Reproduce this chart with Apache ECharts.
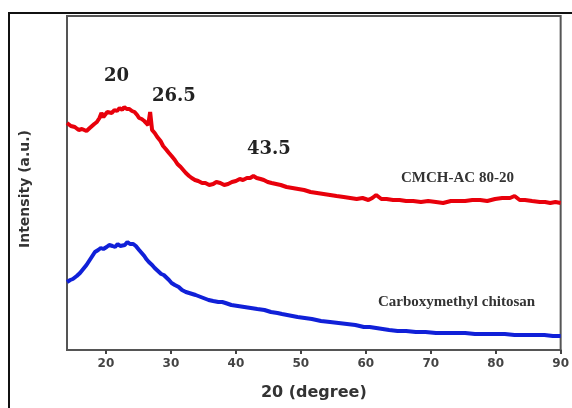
<!DOCTYPE html>
<html>
<head>
<meta charset="utf-8">
<script src="https://cdn.jsdelivr.net/npm/echarts@6/dist/echarts.min.js"></script>
<style>
  html, body { margin: 0; padding: 0; background: #fff; }
  #chart { width: 572px; height: 408px; }
</style>
</head>
<body>
<div id="chart"></div>
<script>
// 2theta positions (degree) and intensity (a.u.)
const redX = [14.0, 14.6, 15.2, 15.8, 16.3, 17.0, 17.5, 17.8, 18.2, 18.6, 19.0, 19.3, 19.6, 19.9, 20.2, 20.5, 20.9, 21.3, 21.7, 22.1, 22.5, 22.8, 23.2, 23.6, 24.0, 24.4, 24.8, 25.1, 25.5, 25.9, 26.2, 26.5, 26.8, 27.1, 27.5, 27.9, 28.4, 28.8, 29.2, 29.7, 30.1, 30.6, 31.0, 31.5, 31.9, 32.3, 32.8, 33.2, 33.7, 34.2, 34.8, 35.3, 35.9, 36.5, 37.0, 37.6, 38.2, 38.8, 39.4, 40.0, 40.6, 41.1, 41.7, 42.2, 42.7, 43.2, 43.8, 44.3, 44.9, 45.5, 46.2, 46.9, 47.8, 48.7, 49.6, 50.5, 51.5, 52.5, 53.5, 54.5, 55.5, 56.6, 57.6, 58.6, 59.5, 60.4, 61.0, 61.6, 62.4, 63.2, 64.2, 65.2, 66.2, 67.3, 68.5, 69.6, 70.8, 71.9, 73.1, 74.2, 75.3, 76.4, 77.6, 78.7, 79.9, 81.0, 82.2, 82.9, 83.7, 84.5, 85.6, 86.8, 87.6, 88.4, 89.2, 90.0];
const redY = [227, 224, 223, 220, 221, 219, 222, 223, 226, 228, 232, 237, 233, 234, 238, 239, 237, 240, 239, 242, 240, 243, 241, 241, 239, 238, 235, 232, 231, 229, 227, 225, 238, 220, 217, 213, 209, 204, 201, 197, 194, 190, 186, 183, 180, 177, 174, 172, 170, 169, 167, 167, 165, 166, 168, 167, 165, 166, 168, 169, 171, 170, 172, 172, 174, 172, 171, 170, 168, 167, 166, 165, 163, 162, 161, 160, 158, 157, 156, 155, 154, 153, 152, 151, 152, 150, 152, 155, 151, 151, 150, 150, 149, 149, 148, 149, 148, 147, 149, 149, 149, 150, 150, 149, 151, 152, 152, 154, 150, 150, 149, 148, 148, 147, 148, 147];
const blueX = [14.0, 14.5, 14.9, 15.5, 16.0, 16.5, 17.0, 17.6, 18.3, 18.8, 19.2, 19.6, 20.1, 20.5, 21.0, 21.4, 21.8, 22.2, 22.5, 22.9, 23.3, 23.7, 24.2, 24.6, 25.1, 25.5, 25.9, 26.2, 26.6, 27.1, 27.5, 28.0, 28.5, 28.9, 29.2, 29.7, 30.1, 30.6, 31.2, 31.7, 32.3, 32.8, 33.3, 33.8, 34.2, 35.0, 35.8, 36.5, 37.3, 37.9, 38.4, 39.3, 40.3, 41.3, 42.3, 43.3, 44.4, 45.4, 46.4, 47.1, 47.9, 48.7, 49.5, 50.6, 51.7, 53.1, 54.5, 55.8, 57.1, 58.4, 59.7, 60.6, 61.6, 62.6, 63.6, 64.9, 66.2, 67.7, 69.2, 70.8, 72.3, 73.8, 75.3, 76.8, 78.4, 79.9, 81.4, 82.9, 84.5, 86.0, 87.5, 88.8, 90.0];
const blueY = [68, 70, 71, 74, 77, 81, 85, 91, 98, 100, 102, 101, 103, 105, 104, 103, 106, 104, 106, 105, 108, 106, 106, 104, 100, 97, 94, 91, 88, 85, 82, 79, 76, 75, 73, 70, 67, 65, 63, 60, 58, 57, 56, 55, 54, 52, 50, 49, 48, 48, 47, 45, 44, 43, 42, 41, 40, 38, 37, 36, 35, 34, 33, 32, 31, 29, 28, 27, 26, 25, 23, 23, 22, 21, 20, 19, 19, 18, 18, 17, 17, 17, 17, 16, 16, 16, 16, 15, 15, 15, 15, 14, 14];
const xTicks = [20, 30, 40, 50, 60, 70, 80, 90];
const peakLabels = ['20', '26.5', '43.5'];
const seriesNames = ['CMCH-AC 80-20', 'Carboxymethyl chitosan'];

const zip = (xs, ys) => xs.map((x, i) => [x, ys[i]]);

const chart = echarts.init(document.getElementById('chart'));
chart.setOption({
  backgroundColor: '#fff',
  animation: false,
  grid: {
    left: 67, top: 16, right: 5, bottom: 58,
    show: true, borderColor: '#555', borderWidth: 2
  },
  xAxis: {
    type: 'value',
    min: 14,
    max: 90,
    name: '20 (degree)',
    nameLocation: 'middle',
    nameGap: 35,
    nameTextStyle: { fontFamily: 'DejaVu Sans', fontWeight: 'bold', fontSize: 16, color: '#333' },
    axisLine: { show: true, lineStyle: { color: '#555', width: 2 } },
    axisTick: { show: true, customValues: xTicks, length: 4, lineStyle: { color: '#444', width: 2 } },
    axisLabel: {
      customValues: xTicks,
      fontFamily: 'DejaVu Sans', fontWeight: 'bold', fontSize: 12, color: '#444', margin: 8
    },
    splitLine: { show: false }
  },
  yAxis: {
    type: 'value',
    min: 0,
    max: 334,
    name: 'Intensity (a.u.)',
    nameLocation: 'middle',
    nameGap: 35,
    nameTextStyle: { fontFamily: 'DejaVu Sans', fontWeight: 'bold', fontSize: 14, color: '#333', padding: [0, 12, 0, 0] },
    axisLine: { show: true, lineStyle: { color: '#555', width: 2 } },
    axisTick: { show: false },
    axisLabel: { show: false },
    splitLine: { show: false }
  },
  series: [
    {
      name: seriesNames[0],
      type: 'line',
      data: zip(redX, redY),
      showSymbol: false,
      lineStyle: { color: '#e8000b', width: 4 },
      z: 3
    },
    {
      name: seriesNames[1],
      type: 'line',
      data: zip(blueX, blueY),
      showSymbol: false,
      lineStyle: { color: '#1020d8', width: 4 },
      z: 3
    }
  ],
  graphic: [
    {
      type: 'rect', silent: true, z: 10,
      shape: { x: 9, y: 13, width: 600, height: 450 },
      style: { fill: 'none', stroke: '#111', lineWidth: 2 }
    },
    {
      type: 'text', left: 104, top: 67, z: 10,
      style: { text: peakLabels[0], font: 'bold 18px "DejaVu Serif"', fill: '#222' }
    },
    {
      type: 'text', left: 152, top: 87, z: 10,
      style: { text: peakLabels[1], font: 'bold 18px "DejaVu Serif"', fill: '#222' }
    },
    {
      type: 'text', left: 247, top: 140, z: 10,
      style: { text: peakLabels[2], font: 'bold 18px "DejaVu Serif"', fill: '#222' }
    },
    {
      type: 'text', left: 401, top: 171, z: 10,
      style: { text: seriesNames[0], font: 'bold 15px "Liberation Serif"', fill: '#333' }
    },
    {
      type: 'text', left: 378, top: 295, z: 10,
      style: { text: seriesNames[1], font: 'bold 15px "Liberation Serif"', fill: '#333' }
    }
  ]
});
</script>
</body>
</html>
